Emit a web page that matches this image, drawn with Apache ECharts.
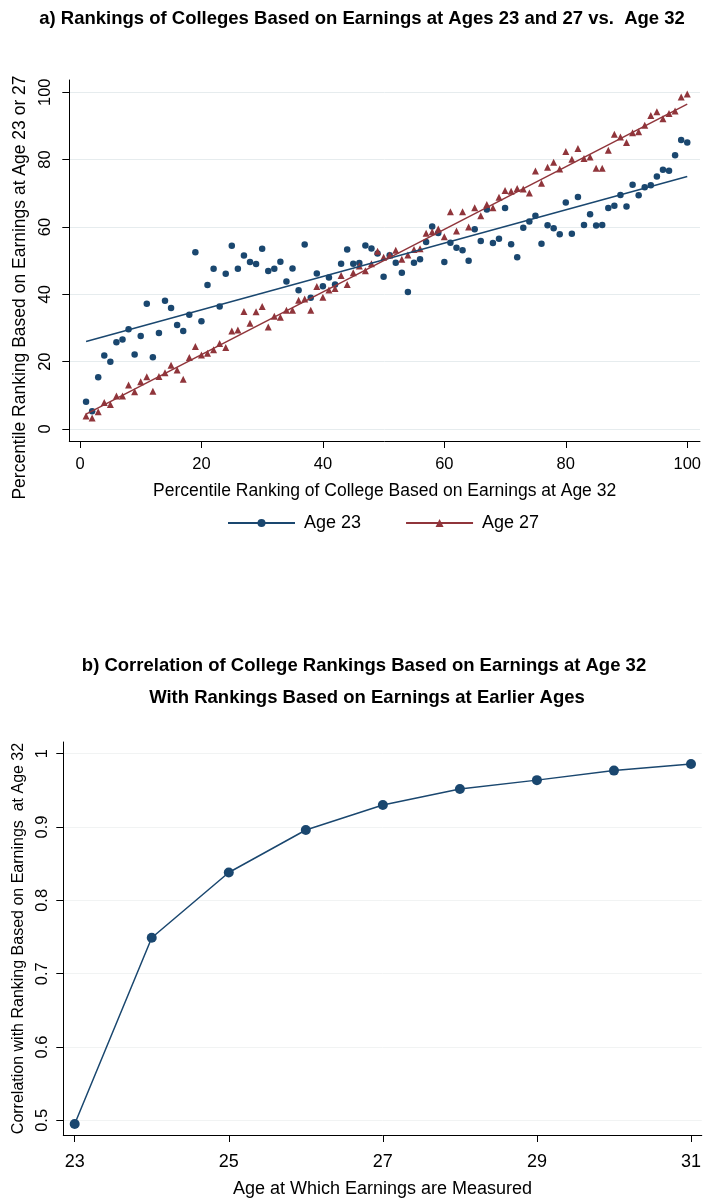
<!DOCTYPE html>
<html><head><meta charset="utf-8">
<script src="https://cdn.jsdelivr.net/npm/echarts@6/dist/echarts.min.js"></script>
<style>html,body{margin:0;padding:0;background:#fff}#main{width:704px;height:1201px}</style>
</head><body><div id="main"></div>
<script>
// ---- Panel a data ----
const pct = [1,2,3,4,5,6,7,8,9,10,11,12,13,14,15,16,17,18,19,20,21,22,23,24,25,26,27,28,29,30,31,32,33,34,35,36,37,38,39,40,41,42,43,44,45,46,47,48,49,50,51,52,53,54,55,56,57,58,59,60,61,62,63,64,65,66,67,68,69,70,71,72,73,74,75,76,77,78,79,80,81,82,83,84,85,86,87,88,89,90,91,92,93,94,95,96,97,98,99,100];
const age23 = [8.1,5.3,15.4,21.8,20.0,25.8,26.6,29.6,22.1,27.6,37.2,21.3,28.5,38.1,35.9,30.9,29.1,33.9,52.5,32.0,42.8,47.6,36.4,46.1,54.4,47.6,51.5,49.6,49.0,53.5,46.9,47.6,49.7,43.8,47.7,41.2,54.8,39.0,46.2,42.4,45.0,42.9,49.1,53.3,49.1,49.3,54.5,53.6,52.1,45.2,51.6,49.4,46.4,40.7,49.4,50.4,55.5,60.1,58.2,49.6,55.3,53.8,53.1,50.0,59.3,55.8,65.2,55.2,56.5,65.6,54.9,51.0,59.8,61.6,63.3,55.0,60.5,59.6,57.8,67.3,58.0,68.9,60.6,63.8,60.4,60.6,65.6,66.3,69.5,66.1,72.5,69.4,71.8,72.4,75.0,77.0,76.7,81.3,85.8,85.1];
const age27 = [3.9,3.3,5.1,7.9,7.3,9.8,9.8,13.1,11.1,14.0,15.5,11.2,15.6,16.7,18.9,17.5,14.8,21.2,24.5,22.0,22.5,23.5,25.4,24.2,29.1,29.4,34.9,31.4,34.8,36.4,30.3,33.5,33.2,35.3,35.3,38.2,38.6,35.3,42.3,39.1,41.3,41.7,45.6,42.9,46.4,48.4,47.0,49.1,52.8,51.0,51.7,53.1,50.4,51.7,53.3,53.5,58.1,58.6,59.4,57.1,64.5,58.8,64.5,60.0,65.7,63.3,66.7,65.7,68.8,70.8,70.6,71.4,71.3,70.1,76.6,73.0,77.7,79.2,77.2,82.4,80.1,83.3,80.3,80.8,77.4,77.4,82.8,87.5,86.7,85.1,88.0,88.3,90.2,93.1,94.2,92.1,93.7,94.4,98.6,99.5];
const fitX = [1, 100];
const fit23 = [26.0, 75.0];
const fit27 = [4.4, 96.5];
const pctTicks = [0, 20, 40, 60, 80, 100];

// ---- Panel b data ----
const ages = [23, 24, 25, 26, 27, 28, 29, 30, 31];
const corr = [0.495, 0.749, 0.838, 0.896, 0.930, 0.952, 0.964, 0.977, 0.986];
const ageTicks = [23, 25, 27, 29, 31];
const corrTicks = [0.5, 0.6, 0.7, 0.8, 0.9, 1];

const BLUE = '#1a476f';
const RED = '#90353b';
const FONT = "'Liberation Sans', Arial, Helvetica, sans-serif";

const chart = echarts.init(document.getElementById('main'), null, {renderer: 'canvas'});

function axisBase(ticks, labelSize, extra) {
  return Object.assign({
    type: 'value',
    axisLine: {show: true, onZero: false, lineStyle: {color: '#000', width: 1}},
    axisTick: {show: true, length: 7, customValues: ticks, lineStyle: {color: '#000', width: 1}},
    axisLabel: {customValues: ticks, color: '#000', fontSize: labelSize, fontFamily: FONT, margin: 12},
    splitLine: {show: false},
    nameLocation: 'middle',
    nameTextStyle: {color: '#000', fontFamily: FONT}
  }, extra);
}

const option = {
  animation: false,
  backgroundColor: '#fff',
  textStyle: {fontFamily: FONT},
  title: [
    {text: 'a) Rankings of Colleges Based on Earnings at Ages 23 and 27 vs.  Age 32', left: 357, textAlign: 'center', top: 4,
     textStyle: {fontSize: 18.5, fontWeight: 'bold', color: '#000', fontFamily: FONT}},
    {text: 'b) Correlation of College Rankings Based on Earnings at Age 32', left: 359, textAlign: 'center', top: 651,
     textStyle: {fontSize: 18.5, fontWeight: 'bold', color: '#000', fontFamily: FONT}},
    {text: 'With Rankings Based on Earnings at Earlier Ages', left: 362, textAlign: 'center', top: 683,
     textStyle: {fontSize: 18.5, fontWeight: 'bold', color: '#000', fontFamily: FONT}}
  ],
  legend: {
    data: ['Age 23', 'Age 27'],
    left: 222, top: 509,
    itemWidth: 67, itemHeight: 10, itemGap: 44,
    textStyle: {fontSize: 18, color: '#000', fontFamily: FONT, padding: [0, 0, 0, 4]}
  },
  grid: [
    {left: 69.3, right: 4, top: 80, bottom: 1201 - 441},
    {left: 63.3, right: 1, top: 742, bottom: 1201 - 1135}
  ],
  xAxis: [
    axisBase(pctTicks, 16.5, {gridIndex: 0, min: -1.76, max: 102.1,
      axisLabel: {customValues: pctTicks, color: '#000', fontSize: 16.5, fontFamily: FONT, margin: 15},
      name: 'Percentile Ranking of College Based on Earnings at Age 32', nameGap: 41,
      nameTextStyle: {color: '#000', fontFamily: FONT, fontSize: 17.5}}),
    axisBase(ageTicks, 18, {gridIndex: 1, min: 22.852, max: 31.14,
      axisLabel: {customValues: ageTicks, color: '#000', fontSize: 18, fontFamily: FONT, margin: 18},
      name: 'Age at Which Earnings are Measured', nameGap: 45,
      nameTextStyle: {color: '#000', fontFamily: FONT, fontSize: 18}})
  ],
  yAxis: [
    axisBase(pctTicks, 16.5, {gridIndex: 0, min: -3.56, max: 103.64,
      axisLabel: {customValues: pctTicks, color: '#000', fontSize: 16.5, fontFamily: FONT, margin: 15, rotate: 90},
      splitLine: {show: true, lineStyle: {color: '#e6ecee', width: 1}},
      name: 'Percentile Ranking Based on Earnings at Age 23 or 27', nameGap: 38,
      nameTextStyle: {color: '#000', fontFamily: FONT, fontSize: 17.5, padding: [0, 54, 0, 0]}}),
    axisBase(corrTicks, 16.5, {gridIndex: 1, min: 0.48, max: 1.016,
      axisLabel: {customValues: corrTicks, color: '#000', fontSize: 16.5, fontFamily: FONT, margin: 12, rotate: 90},
      splitLine: {show: true, lineStyle: {color: '#f1f3f3', width: 1}},
      name: 'Correlation with Ranking Based on Earnings  at Age 32', nameGap: 37,
      nameTextStyle: {color: '#000', fontFamily: FONT, fontSize: 16}})
  ],
  series: [
    {type: 'line', name: 'Age 23', xAxisIndex: 0, yAxisIndex: 0, z: 3,
     data: fitX.map((x, i) => [x, fit23[i]]), symbol: 'circle', showSymbol: false,
     lineStyle: {color: BLUE, width: 1.5}, itemStyle: {color: BLUE}},
    {type: 'line', name: 'Age 27', xAxisIndex: 0, yAxisIndex: 0, z: 3,
     data: fitX.map((x, i) => [x, fit27[i]]), symbol: 'triangle', showSymbol: false,
     lineStyle: {color: RED, width: 1.5}, itemStyle: {color: RED}},
    {type: 'scatter', name: 'Age 23 colleges', xAxisIndex: 0, yAxisIndex: 0,
     data: pct.map((x, i) => [x, age23[i]]), symbol: 'circle', symbolSize: 6.5,
     itemStyle: {color: BLUE, opacity: 1}},
    {type: 'scatter', name: 'Age 27 colleges', xAxisIndex: 0, yAxisIndex: 0,
     data: pct.map((x, i) => [x, age27[i]]), symbol: 'triangle', symbolSize: 7,
     itemStyle: {color: RED, opacity: 1}},
    {type: 'line', name: 'Correlation', xAxisIndex: 1, yAxisIndex: 1,
     data: ages.map((a, i) => [a, corr[i]]), symbol: 'circle', symbolSize: 10, showSymbol: true,
     lineStyle: {color: BLUE, width: 1.5}, itemStyle: {color: BLUE}}
  ]
};
chart.setOption(option);
</script>
</body></html>
